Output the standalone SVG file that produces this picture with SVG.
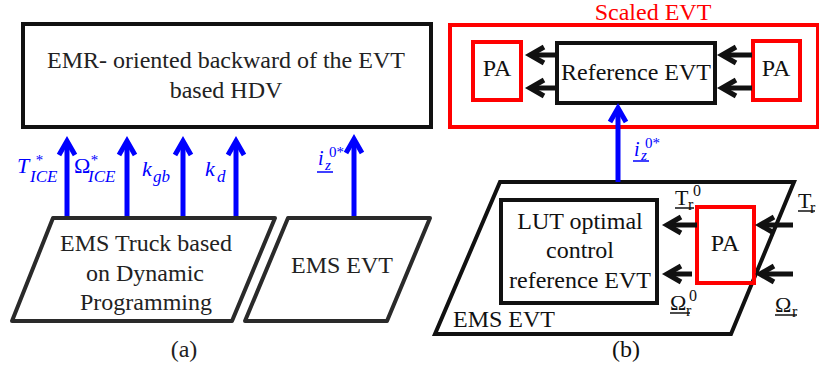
<svg xmlns="http://www.w3.org/2000/svg" width="819" height="369" viewBox="0 0 819 369" font-family="'Liberation Serif', 'Times New Roman', serif">
<style>
.t{font-size:24px;fill:#222;}
.tb{font-size:24px;fill:#111;}
.c{text-anchor:middle;}
.red{fill:#ff0000;}
.m{fill:#0000ff;font-style:italic;}
.k{fill:#111;}
.box{fill:none;stroke:#111;stroke-width:4;}
.par{fill:#fff;stroke:#2a2a2a;stroke-width:4;stroke-linejoin:round;}
.rbox{fill:none;stroke:#ff0000;stroke-width:4;}
.ba{stroke:#0000ff;stroke-width:5;fill:none;marker-end:url(#hb);}
.ka{stroke:#111;stroke-width:5;fill:none;marker-end:url(#hk);}
.ul{stroke-width:1.5;}
</style>
<defs>
<marker id="hb" viewBox="-17 -11 24 22" markerWidth="24" markerHeight="22" refX="0" refY="0" orient="auto" markerUnits="userSpaceOnUse">
<path d="M-14,-8 L0,0 L-14,8" fill="none" stroke="#0000ff" stroke-width="5"/>
</marker>
<marker id="hk" viewBox="-17 -11 24 22" markerWidth="24" markerHeight="22" refX="0" refY="0" orient="auto" markerUnits="userSpaceOnUse">
<path d="M-14,-8 L0,0 L-14,8" fill="none" stroke="#111" stroke-width="5"/>
</marker>
</defs>
<rect width="819" height="369" fill="#fff"/>

<!-- (a) -->
<g id="emr-backward">
<rect class="box" x="23" y="24" width="408" height="103"/>
<text class="t c" x="226" y="68">EMR- oriented backward of the EVT</text>
<text class="t c" x="226" y="98">based HDV</text>
</g>
<g id="ems-truck">
<polygon class="par" points="53,218 275,218 232,321 12,321"/>
<text class="t c" x="146" y="251">EMS Truck based</text>
<text class="t c" x="145" y="281">on Dynamic</text>
<text class="t c" x="146" y="310">Programming</text>
</g>
<g id="ems-evt-a">
<polygon class="par" points="288,218 430,218 387,321 245,321"/>
<text class="t c" x="342" y="273">EMS EVT</text>
</g>
<g id="connectors-a">
<line class="ba" x1="67" y1="216" x2="67" y2="141"/>
<line class="ba" x1="127" y1="216" x2="127" y2="141"/>
<line class="ba" x1="183" y1="216" x2="183" y2="141"/>
<line class="ba" x1="236" y1="216" x2="236" y2="141"/>
<line class="ba" x1="354" y1="216" x2="354" y2="139"/>
</g>
<g id="labels-a">
<text class="m" x="17" y="173" font-size="22">T</text>
<text class="m" x="35" y="165" font-size="15">*</text>
<text class="m" x="30" y="182" font-size="17">ICE</text>
<text x="74" y="173" font-size="22" fill="#0000ff">Ω</text>
<text class="m" x="90" y="165" font-size="15">*</text>
<text class="m" x="88" y="182" font-size="17">ICE</text>
<text class="m" x="142" y="176" font-size="22">k</text>
<text class="m" x="153" y="182" font-size="17">gb</text>
<text class="m" x="205" y="176" font-size="22">k</text>
<text class="m" x="217" y="182" font-size="17">d</text>
<text class="m" x="318" y="165" font-size="20">i</text>
<text class="m" x="325" y="170" font-size="15">z</text>
<text x="329" y="157" font-size="15" fill="#0000ff">0*</text>
<line class="ul" x1="317" y1="172" x2="333" y2="172" stroke="#0000ff"/>
</g>
<text class="t c" x="184" y="357" font-size="22">(a)</text>

<!-- (b) -->
<g id="scaled-evt">
<rect class="rbox" x="450" y="25" width="368" height="102"/>
<text class="tb c red" x="653" y="20" font-size="23">Scaled EVT</text>
</g>
<g id="pa-left">
<rect class="rbox" x="473" y="42" width="48" height="58"/>
<text class="tb c" x="497" y="76">PA</text>
</g>
<g id="reference-evt">
<rect class="box" x="557" y="43" width="158" height="60"/>
<text class="tb c" x="636" y="80">Reference EVT</text>
</g>
<g id="pa-right">
<rect class="rbox" x="753" y="41" width="47" height="59"/>
<text class="tb c" x="776" y="76">PA</text>
</g>
<g id="ems-evt-b">
<polygon class="box" points="500,182 794,182 731,334 435,334" style="stroke-linejoin:miter"/>
<text class="tb" x="453" y="327">EMS EVT</text>
</g>
<g id="lut">
<rect class="box" x="501" y="200" width="156" height="103"/>
<text class="tb c" x="580" y="229">LUT optimal</text>
<text class="tb c" x="580" y="258">control</text>
<text class="tb c" x="580" y="288">reference EVT</text>
</g>
<g id="pa-b">
<rect class="rbox" x="697" y="207" width="57" height="76"/>
<text class="tb c" x="725" y="251">PA</text>
</g>
<g id="connectors-b">
<line class="ka" x1="557" y1="55" x2="530" y2="55"/>
<line class="ka" x1="557" y1="88" x2="530" y2="88"/>
<line class="ka" x1="752" y1="55" x2="722" y2="55"/>
<line class="ka" x1="752" y1="88" x2="722" y2="88"/>
<line class="ba" x1="618" y1="182" x2="618" y2="108"/>
<line class="ka" x1="697" y1="225" x2="667" y2="225"/>
<line class="ka" x1="692" y1="274" x2="667" y2="274"/>
<line class="ka" x1="793" y1="225" x2="760" y2="225"/>
<line class="ka" x1="793" y1="274" x2="760" y2="274"/>
</g>
<g id="labels-b">
<text class="m" x="634" y="156" font-size="20">i</text>
<text class="m" x="641" y="160" font-size="15">z</text>
<text x="645" y="148" font-size="15" fill="#0000ff">0*</text>
<line class="ul" x1="633" y1="161" x2="649" y2="161" stroke="#0000ff"/>
<text class="k" x="675" y="205" font-size="22">T</text>
<text class="k" x="688" y="210" font-size="16">r</text>
<text class="k" x="693" y="196" font-size="16">0</text>
<line class="ul" x1="675" y1="208" x2="694" y2="208" stroke="#111"/>
<text class="k" x="670" y="310" font-size="22">Ω</text>
<text class="k" x="686" y="316" font-size="16">r</text>
<text class="k" x="689" y="301" font-size="16">0</text>
<line class="ul" x1="670" y1="313" x2="690" y2="313" stroke="#111"/>
<text class="k" x="798" y="208" font-size="22">T</text>
<text class="k" x="810" y="213" font-size="16">r</text>
<line class="ul" x1="798" y1="211" x2="815" y2="211" stroke="#111"/>
<text class="k" x="775" y="312" font-size="22">Ω</text>
<text class="k" x="792" y="317" font-size="16">r</text>
<line class="ul" x1="775" y1="315" x2="797" y2="315" stroke="#111"/>
</g>
<text class="tb c" x="626" y="357" font-size="22">(b)</text>
</svg>
